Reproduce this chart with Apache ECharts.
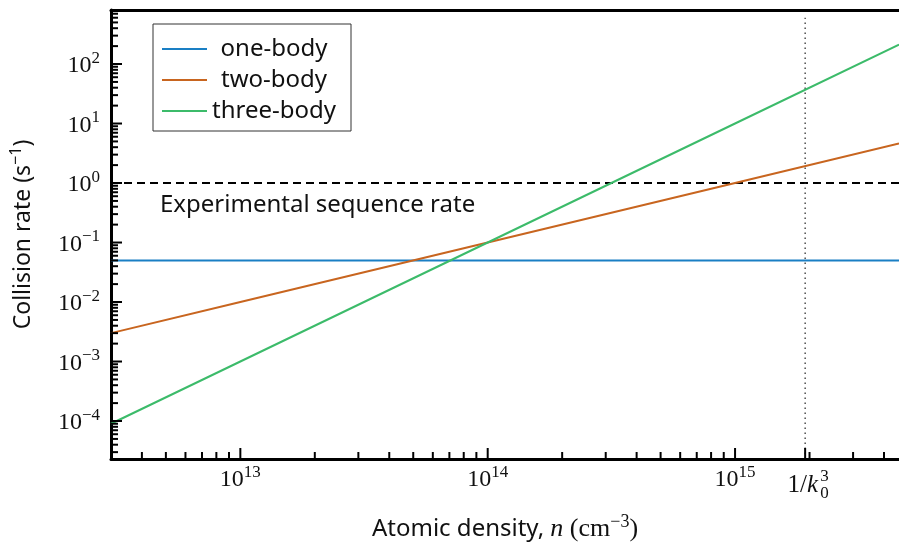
<!DOCTYPE html>
<html>
<head>
<meta charset="utf-8">
<script src="https://cdn.jsdelivr.net/npm/echarts@6/dist/echarts.min.js"></script>
<style>
html, body { margin: 0; padding: 0; background: #fff; }
#chart { width: 899px; height: 544px; }
</style>
</head>
<body>
<div id="chart"></div>
<script>
// atomic density (cm^-3) and collision rates (s^-1)
var densities = [3e12, 1e13, 1e14, 1e15, 4.6e15];
var oneBody = [0.05, 0.05, 0.05, 0.05, 0.05];
var twoBody = [0.003, 0.01, 0.1, 1, 4.6];
var threeBody = [9e-5, 0.001, 0.1, 10, 212];
var seqRate = 1;          // experimental sequence rate
var kInv = 1.92e15;       // 1/k0^3
var xRange = [3e12, 4.6e15];
var yRange = [2.3e-5, 809];
var names = ['one-body', 'two-body', 'three-body'];
var colors = ['#1a7fc4', '#c8651f', '#3cbb6a'];

var xMajor = [1e13, 1e14, 1e15, kInv];
var yMajor = [1e-4, 1e-3, 1e-2, 1e-1, 1, 10, 100];
var xMinor = [], yMinor = [];
for (var e = 12; e <= 15; e++) {
    for (var m = 2; m <= 9; m++) {
        var v = m * Math.pow(10, e);
        if (v > xRange[0] && v < xRange[1]) xMinor.push(v);
    }
}
for (var e = -5; e <= 2; e++) {
    for (var m = 2; m <= 9; m++) {
        var v = m * Math.pow(10, e);
        if (v > yRange[0] && v < yRange[1]) yMinor.push(v);
    }
}

var serif = 'Liberation Serif';
var sans = 'Noto Sans';
var ink = '#111';

function powLabel(v) {
    var e = Math.log10(v), r = Math.round(e);
    if (Math.abs(e - r) > 1e-6) return '';
    return '{b|10}{s|' + String(r).replace('-', '\u2212') + '}';
}
var powRich = {
    b: { fontFamily: serif, fontSize: 24, lineHeight: 24, color: ink },
    s: { fontFamily: serif, fontSize: 17, lineHeight: 17, padding: [0, 0, 15, 0], color: ink }
};

function tickSeries(values, axis, len) {
    return {
        type: 'custom',
        silent: true,
        z: 5,
        data: values.map(function (v) {
            return axis === 'x' ? [v, yRange[0]] : [xRange[0], v];
        }),
        renderItem: function (params, api) {
            var p = api.coord([api.value(0), api.value(1)]);
            var shape = axis === 'x'
                ? { x1: p[0], y1: p[1], x2: p[0], y2: p[1] - len }
                : { x1: p[0], y1: p[1], x2: p[0] + len, y2: p[1] };
            return { type: 'line', shape: shape, style: { stroke: '#000', lineWidth: 2 } };
        }
    };
}

function pairs(ys) {
    return densities.map(function (x, i) { return [x, ys[i]]; });
}

var chart = echarts.init(document.getElementById('chart'));

var series = [oneBody, twoBody, threeBody].map(function (ys, i) {
    return {
        name: names[i],
        type: 'line',
        data: pairs(ys),
        symbol: 'none',
        color: colors[i],
        lineStyle: { width: 2, color: colors[i] },
        z: 3
    };
});
series.push({
    name: 'seq',
    type: 'line',
    data: [[xRange[0], seqRate], [xRange[1], seqRate]],
    symbol: 'none',
    lineStyle: { width: 2, color: '#000', type: [8, 5] },
    z: 2
});
series.push({
    name: 'k0',
    type: 'line',
    data: [[kInv, yRange[0]], [kInv, 600]],
    symbol: 'none',
    lineStyle: { width: 1.2, color: '#222', type: [1.5, 3.5] },
    z: 2
});
series.push(tickSeries(xMajor, 'x', 11));
series.push(tickSeries(xMinor, 'x', 7));
series.push(tickSeries(yMajor, 'y', 11));
series.push(tickSeries(yMinor, 'y', 7));

chart.setOption({
    animation: false,
    backgroundColor: '#fff',
    grid: { left: 111, right: 0, top: 10, bottom: 85, outerBoundsMode: 'none' },
    legend: {
        data: names,
        orient: 'vertical',
        left: 153,
        top: 24,
        padding: [13, 15, 8, 9],
        icon: 'rect',
        itemWidth: 45,
        itemHeight: 2,
        itemGap: 7,
        borderColor: '#333',
        borderWidth: 1,
        borderRadius: 0,
        backgroundColor: '#fff',
        formatter: '{c|{name}}',
        textStyle: {
            color: ink,
            lineHeight: 24,
            rich: { c: { width: 124, align: 'center', fontFamily: sans, fontSize: 24, lineHeight: 24, color: ink } }
        }
    },
    xAxis: [{
        type: 'log',
        min: xRange[0],
        max: xRange[1],
        splitNumber: 5,
        name: '{a|Atomic density, }{i|n}{r| (cm}{s|\u22123}{r|)}',
        nameLocation: 'middle',
        nameGap: 58,
        nameTextStyle: {
            rich: {
                a: { fontFamily: sans, fontSize: 24, lineHeight: 24, color: ink },
                i: { fontFamily: serif, fontStyle: 'italic', fontSize: 26, lineHeight: 24, color: ink },
                r: { fontFamily: serif, fontSize: 26, lineHeight: 24, color: ink },
                s: { fontFamily: serif, fontSize: 18, lineHeight: 18, padding: [0, 0, 14, 0], color: ink }
            }
        },
        axisLine: { lineStyle: { color: '#000', width: 3 } },
        axisTick: { show: false },
        splitLine: { show: false },
        axisLabel: { margin: 9, formatter: powLabel, rich: powRich }
    }, {
        type: 'log',
        position: 'top',
        min: xRange[0],
        max: xRange[1],
        axisLine: { lineStyle: { color: '#000', width: 3 } },
        axisTick: { show: false },
        axisLabel: { show: false },
        splitLine: { show: false }
    }],
    yAxis: {
        type: 'log',
        min: yRange[0],
        max: yRange[1],
        splitNumber: 5,
        name: '{a|Collision rate (s}{s|\u22121}{a|)}',
        nameLocation: 'middle',
        nameRotate: 90,
        nameGap: 76,
        nameTextStyle: {
            rich: {
                a: { fontFamily: sans, fontSize: 23, lineHeight: 24, color: ink },
                s: { fontFamily: sans, fontSize: 16, lineHeight: 16, padding: [0, 0, 14, 0], color: ink }
            }
        },
        axisLine: { lineStyle: { color: '#000', width: 3 } },
        axisTick: { show: false },
        splitLine: { show: false },
        axisLabel: { margin: 11, padding: [4, 0, 0, 0], formatter: powLabel, rich: powRich }
    },
    series: series
});

var px = chart.convertToPixel({ xAxisIndex: 0 }, kInv);
chart.setOption({
    graphic: [{
        type: 'text',
        x: 160,
        y: 205,
        style: { text: 'Experimental sequence rate', fontFamily: sans, fontSize: 24, fill: ink, verticalAlign: 'middle' }
    }, {
        type: 'text',
        x: px + 13,
        y: 485,
        style: {
            text: '{b|1/}{i|k}',
            align: 'right',
            verticalAlign: 'middle',
            rich: {
                b: { fontFamily: serif, fontSize: 25, fill: ink },
                i: { fontFamily: serif, fontStyle: 'italic', fontSize: 25, fill: ink }
            }
        }
    }, {
        type: 'text',
        x: px + 15,
        y: 477,
        style: { text: '3', fontFamily: serif, fontSize: 17, fill: ink, verticalAlign: 'middle' }
    }, {
        type: 'text',
        x: px + 15,
        y: 494,
        style: { text: '0', fontFamily: serif, fontSize: 17, fill: ink, verticalAlign: 'middle' }
    }]
});
</script>
</body>
</html>
